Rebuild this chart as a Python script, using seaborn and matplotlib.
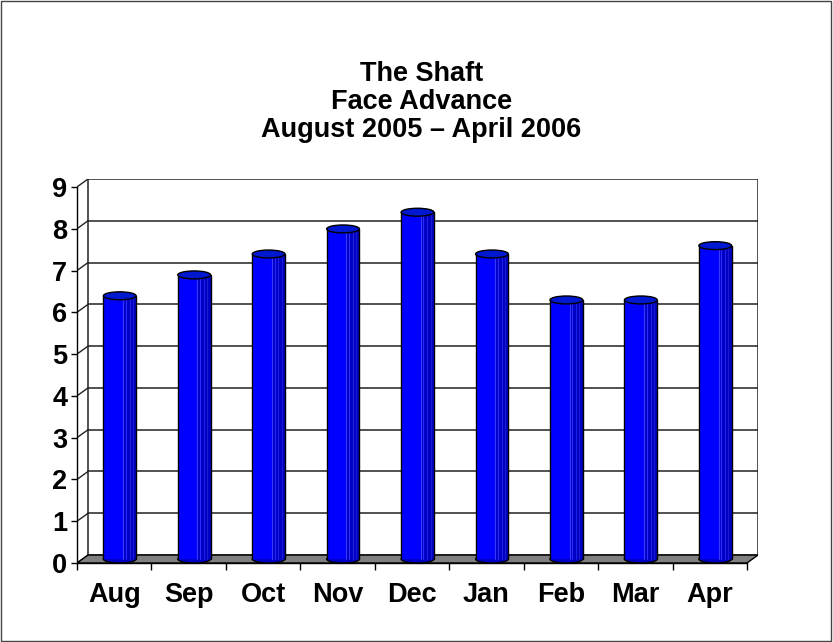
import numpy as np
import matplotlib
matplotlib.use("Agg")
import matplotlib.pyplot as plt
import seaborn as sns
from matplotlib.patches import Ellipse, Rectangle, Polygon

# Data
months = ["Aug", "Sep", "Oct", "Nov", "Dec", "Jan", "Feb", "Mar", "Apr"]
advance = [6.3, 6.8, 7.3, 7.9, 8.3, 7.3, 6.2, 6.2, 7.5]
y_ticks = list(range(0, 10))
title_lines = ["The Shaft", "Face Advance", "August 2005 \u2013 April 2006"]

sns.set_style("white")
plt.rcParams['font.family'] = ['Liberation Sans', 'DejaVu Sans']
plt.rcParams['font.weight'] = 'bold'
plt.rcParams['text.color'] = 'black'
plt.rcParams['xtick.color'] = 'black'
plt.rcParams['ytick.color'] = 'black'

BLUE = "#0000FF"
DARK_BLUE = "#0000C4"
GREY = "#808080"

# pseudo 3D depth (in data units)
DX = 0.148
DY = 0.19
BAR_W = 0.44

fig = plt.figure(figsize=(8.33, 6.42), dpi=100)
ax = fig.add_axes([77 / 833, (642 - 563) / 642, (758 - 77) / 833, (563 - 179) / 642])

sns.barplot(x=months, y=advance, color=BLUE, width=BAR_W, saturation=1,
            linewidth=0, ax=ax, zorder=3)

x0, x1 = -0.5, len(months) - 0.5
ymax = y_ticks[-1]

# back wall gridlines + side wall diagonals
for y in y_ticks:
    ax.plot([x0 + DX, x1 + DX], [y + DY, y + DY], color="#222222", lw=1.1, zorder=0.5)
    ax.plot([x0, x0 + DX], [y, y + DY], color="#222222", lw=1.0, zorder=0.5)
ax.plot([x0 + DX, x0 + DX], [DY, ymax + DY], color="#222222", lw=1.1, zorder=0.5)
ax.plot([x1 + DX, x1 + DX], [DY, ymax + DY], color="#222222", lw=1.1, zorder=0.5)

# floor
ax.add_patch(Polygon([(x0, 0), (x1, 0), (x1 + DX, DY), (x0 + DX, DY)], closed=True,
                     facecolor=GREY, edgecolor="black", lw=1.0, zorder=1))

# make the bars look like cylinders
for bar, val in zip(ax.patches[:len(months)], advance):
    bar.set_x(bar.get_x() + DX / 2)
    bar.set_y(DY / 2)
    bar.set_height(val)
    bx, bw = bar.get_x(), bar.get_width()
    cx = bx + bw / 2
    top = val + DY / 2
    # darker right side with light stripes
    ax.add_patch(Rectangle((bx + 0.6 * bw, DY / 2), 0.4 * bw, val, facecolor=DARK_BLUE,
                           lw=0, zorder=3.05))
    for f, c in [(0.6, "#3a3aff"), (0.68, "#2a2aff"), (0.8, "#2020e0"), (0.9, "#1a1ad0")]:
        ax.plot([bx + f * bw] * 2, [DY / 2, top], color=c, lw=0.8, zorder=3.06)
    ax.plot([bx, bx], [DY / 2, top], color="black", lw=1.0, zorder=3.1)
    ax.plot([bx + bw, bx + bw], [DY / 2, top], color="black", lw=1.0, zorder=3.1)
    ax.add_patch(Ellipse((cx, DY / 2), bw, DY, facecolor=DARK_BLUE, edgecolor="black",
                         lw=1.0, zorder=2.9))
    ax.add_patch(Ellipse((cx, top), bw, DY, facecolor="#0018D0", edgecolor="black",
                         lw=1.0, zorder=3.2))

ax.set_xlim(x0, x1 + DX)
ax.set_ylim(0, ymax + DY)
ax.set_yticks(y_ticks)
ax.set_yticklabels([str(v) for v in y_ticks])
ax.set_xticks(range(len(months)))
ax.set_xticklabels(months)
ax.set_xticks(np.arange(x0, x1 + 0.01, 1.0), minor=True)
ax.set_xlabel("")
ax.set_ylabel("")

for side in ["top", "right", "bottom"]:
    ax.spines[side].set_visible(False)
ax.spines["left"].set_bounds(0, ymax)
ax.spines["left"].set_color("black")
ax.spines["left"].set_linewidth(1.0)
ax.plot([x0, x1], [0, 0], color="black", lw=1.0, zorder=1.5, clip_on=False)

ax.tick_params(axis="y", which="major", left=True, length=4, width=1, color="black",
               pad=3, labelsize=19.5)
ax.tick_params(axis="x", which="major", bottom=True, length=0, pad=14, labelsize=19.5)
ax.tick_params(axis="x", which="minor", bottom=True, length=5, width=1, color="black")
for lab in ax.get_xticklabels() + ax.get_yticklabels():
    lab.set_fontweight("bold")
ax.set_facecolor("none")

fig.text(0.506, 0.905, "\n".join(title_lines), ha="center", va="top", fontsize=19.5,
         fontweight="bold", linespacing=1.1)

# outer frame
fig.patches.append(Rectangle((0.001, 0.002), 0.997, 0.996, transform=fig.transFigure,
                             fill=False, edgecolor="#444444", lw=1.0))

fig.savefig("out.png", dpi=100)
